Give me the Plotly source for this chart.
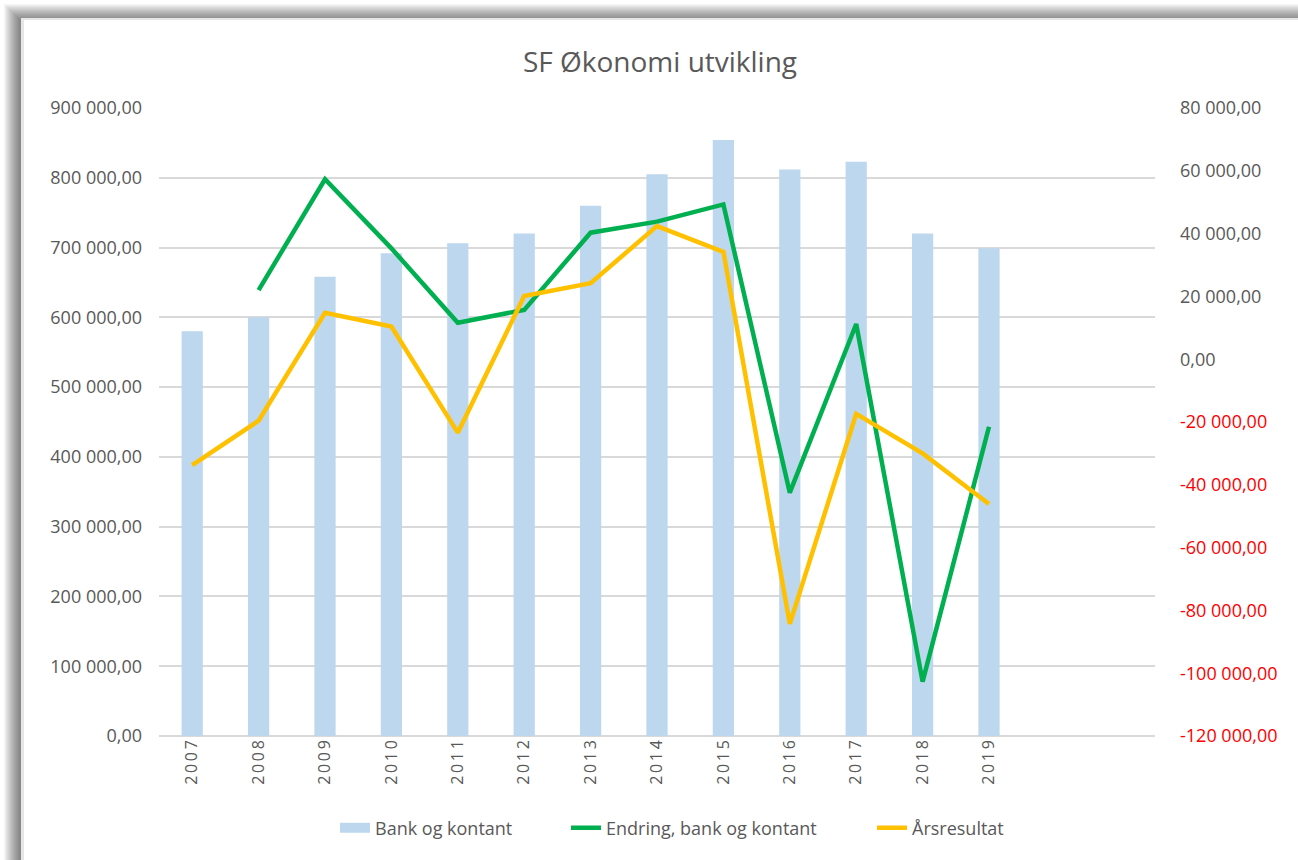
import plotly.graph_objects as go

years = [2007, 2008, 2009, 2010, 2011, 2012, 2013, 2014, 2015, 2016, 2017, 2018, 2019]
bank_og_kontant = [580000, 600000, 658000, 692000, 706000, 720000, 760000, 805000, 854000, 812000, 823000, 720000, 699000]
endring_bank = [None, 22000, 57300, 35300, 11600, 15700, 40300, 43800, 49300, -42500, 11200, -102700, -21500]
arsresultat = [-33700, -19600, 14800, 10400, -23400, 20100, 24200, 42400, 34200, -84300, -17400, -30000, -46100]

left_ticks = list(range(0, 900001, 100000))
right_ticks = list(range(-120000, 80001, 20000))


def fmt(v):
    s = f"{abs(v):,.2f}".replace(",", " ").replace(".", ",")
    return ("-" if v < 0 else "") + s


left_text = [fmt(v) for v in left_ticks]
right_text = [
    (f'<span style="color:#FF0000">{fmt(v)}</span>' if v < 0 else fmt(v))
    for v in right_ticks
]
year_text = ["\u2009".join(str(y)) for y in years]

W, H = 1298, 860
L, R, T, B = 159, 1155, 108, 736

def px(X):
    return (X - L) / (R - L)

def py(Y):
    return (B - Y) / (B - T)

fig = go.Figure()
fig.add_trace(go.Bar(x=years, y=bank_og_kontant, name="Bank og kontant",
                     marker=dict(color="#BDD7EE", line=dict(width=0)), width=0.32,
                     showlegend=False))
# legend entry for the bars, drawn as a wide swatch
fig.add_trace(go.Scatter(x=[None], y=[None], name="Bank og kontant", mode="lines",
                         line=dict(color="#BDD7EE", width=14), legend="legend"))
fig.add_trace(go.Scatter(x=years, y=endring_bank, name="Endring, bank og kontant",
                         mode="lines", line=dict(color="#00B050", width=4.5), yaxis="y2",
                         legend="legend2"))
fig.add_trace(go.Scatter(x=years, y=arsresultat, name="Årsresultat",
                         mode="lines", line=dict(color="#FFC000", width=4.5), yaxis="y2",
                         legend="legend3"))

shapes = []
n = 16
for i in range(n):
    off = 4 + i
    shapes.append(dict(type="rect", xref="paper", yref="paper", layer="below",
                       x0=px(off), x1=px(W + 50), y0=py(H + 50), y1=py(off),
                       fillcolor="rgba(0,0,0,0.035)", line=dict(width=0)))
shapes.append(dict(type="rect", xref="paper", yref="paper", layer="below",
                   x0=px(21), x1=px(W + 50), y0=py(H + 50), y1=py(18),
                   fillcolor="#E6E6E6", line=dict(width=0)))
shapes.append(dict(type="rect", xref="paper", yref="paper", layer="below",
                   x0=px(24), x1=px(W + 50), y0=py(H + 50), y1=py(20),
                   fillcolor="#FFFFFF", line=dict(width=0)))

leg_common = dict(orientation="h", xanchor="left", yanchor="middle", y=py(828),
                  font=dict(size=18, color="#595959"), bgcolor="rgba(0,0,0,0)",
                  borderwidth=0)

fig.update_layout(
    width=W, height=H,
    margin=dict(l=L, r=W - R, t=T, b=H - B),
    paper_bgcolor="#FFFFFF", plot_bgcolor="rgba(0,0,0,0)",
    font=dict(family="Open Sans", color="#595959", size=17),
    title=dict(text="SF Økonomi utvikling", x=660 / W, xanchor="center",
               y=1 - 62 / H, yanchor="middle", yref="container",
               font=dict(size=28, color="#595959", family="Open Sans")),
    xaxis=dict(range=[2006.5, 2021.5], tickmode="array", tickvals=years, ticktext=year_text,
               tickangle=-90, showgrid=False, zeroline=False,
               showline=False, ticks="", tickfont=dict(size=16, color="#595959")),
    yaxis=dict(range=[0, 900000], tickmode="array", tickvals=left_ticks, ticktext=left_text,
               showgrid=True, gridcolor="#D9D9D9", gridwidth=1.5,
               zeroline=True, zerolinecolor="#D9D9D9", zerolinewidth=1.5,
               showline=False, ticks="", ticklabelstandoff=16,
               tickfont=dict(size=18, color="#595959")),
    yaxis2=dict(range=[-120000, 80000], tickmode="array", tickvals=right_ticks, ticktext=right_text,
                overlaying="y", side="right", showgrid=False, zeroline=False,
                showline=False, ticks="", ticklabelstandoff=24,
                tickfont=dict(size=18, color="#595959")),
    legend=dict(x=px(375 - 40), **leg_common),
    legend2=dict(x=px(606 - 40), **leg_common),
    legend3=dict(x=px(912 - 40), **leg_common),
    shapes=shapes,
    showlegend=True,
)

fig.write_html("out.html", config={"displayModeBar": False},
               post_script="document.body.style.margin='0px';")
